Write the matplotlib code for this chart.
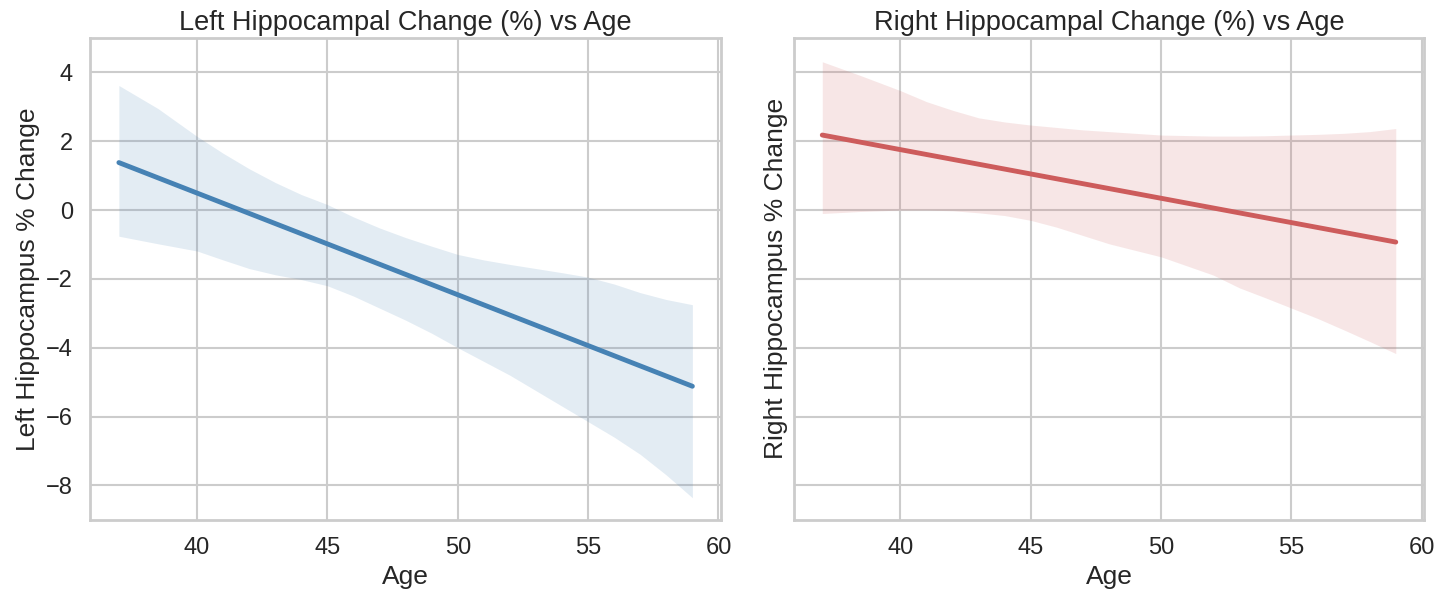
import numpy as np
import seaborn as sns
from matplotlib import pyplot as plt

sns.set_theme(style="whitegrid", context="talk")
plt.rcParams['font.family'] = ['Liberation Sans', 'DejaVu Sans']

# fitted lines (end points of the regression fit)
fit_age = [37, 59]
left_fit = [1.38, -5.12]
right_fit = [2.18, -0.93]

# confidence bands
left_band_age = [37, 38.5, 40, 41, 42, 43, 44, 45, 46, 47, 48, 49, 50, 51, 52, 53, 54, 55, 56, 57, 58, 59]
left_upper = [3.62, 2.95, 2.14, 1.65, 1.2, 0.8, 0.45, 0.16, -0.2, -0.52, -0.8, -1.05, -1.29, -1.45,
              -1.58, -1.7, -1.82, -1.95, -2.15, -2.4, -2.6, -2.75]
left_lower = [-0.76, -0.98, -1.19, -1.45, -1.7, -1.88, -2.02, -2.2, -2.5, -2.85, -3.2, -3.58, -4.0,
              -4.4, -4.8, -5.25, -5.7, -6.15, -6.6, -7.1, -7.7, -8.36]

right_band_age = [37, 38.5, 40, 41, 42, 43, 44, 45, 46, 47, 48, 50, 52, 53, 54, 55, 56, 57, 58, 59]
right_upper = [4.31, 3.9, 3.47, 3.15, 2.9, 2.68, 2.56, 2.47, 2.4, 2.33, 2.28, 2.18, 2.15, 2.15, 2.16,
               2.18, 2.2, 2.23, 2.28, 2.37]
right_lower = [-0.1, -0.04, 0.0, 0.0, -0.02, -0.08, -0.16, -0.3, -0.5, -0.74, -0.98, -1.36, -1.89,
               -2.26, -2.55, -2.85, -3.15, -3.48, -3.82, -4.17]

xticks = [40, 45, 50, 55, 60]
yticks = [4, 2, 0, -2, -4, -6, -8]

fig, axes = plt.subplots(1, 2, figsize=(14.55, 5.94), dpi=100, sharey=True)
fig.subplots_adjust(left=0.062, right=0.979, bottom=0.125, top=0.936, wspace=0.115)

panels = [
    (axes[0], left_fit, left_band_age, left_upper, left_lower, '#4682B4',
     'Left Hippocampal Change (%) vs Age', 'Left Hippocampus % Change'),
    (axes[1], right_fit, right_band_age, right_upper, right_lower, '#CD5C5C',
     'Right Hippocampal Change (%) vs Age', 'Right Hippocampus % Change'),
]

for ax, fit, band_x, up, lo, color, title, ylabel in panels:
    ax.fill_between(band_x, lo, up, color=color, alpha=0.15, linewidth=0)
    ax.plot(fit_age, fit, color=color, lw=3.5, solid_capstyle='round')
    ax.set_title(title, fontsize=19.5)
    ax.set_xlabel('Age', fontsize=19)
    ax.set_ylabel(ylabel, fontsize=19)
    ax.set_xlim(35.9, 60.1)
    ax.set_ylim(-9.0, 5.0)
    ax.set_xticks(xticks)
    ax.set_yticks(yticks)
    ax.tick_params(labelsize=17)
    for s in ax.spines.values():
        s.set_color('#cccccc')
        s.set_linewidth(2)

axes[1].tick_params(labelleft=False)

plt.savefig('out.png')
